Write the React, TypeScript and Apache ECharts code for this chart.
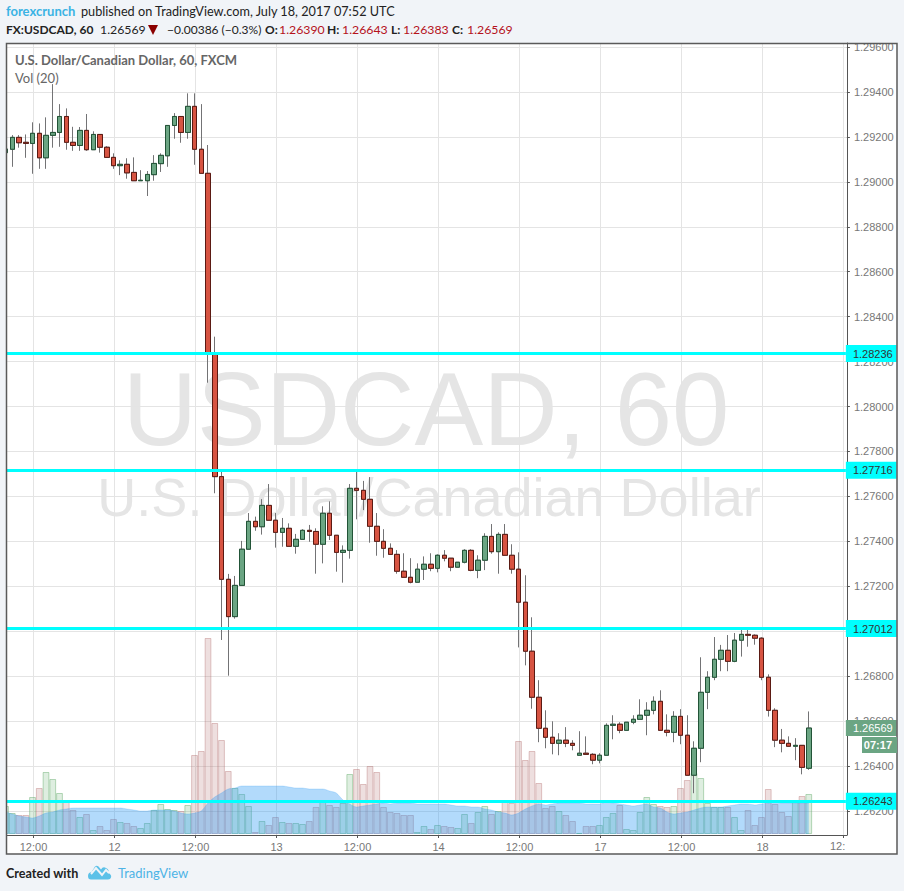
import React, { useEffect, useRef } from "react";
import * as echarts from "echarts";

const opens = [1.29130,1.29145,1.29198,1.29176,1.29171,1.29216,1.29107,1.29207,1.29220,1.29291,1.29176,1.29162,1.29229,1.29143,1.29211,1.29154,1.29109,1.29072,1.29078,1.29042,1.29005,1.29005,1.29032,1.29081,1.29116,1.29251,1.29291,1.29220,1.29336,1.29145,1.29038,1.28237,1.27688,1.27231,1.27065,1.27204,1.27365,1.27489,1.27465,1.27560,1.27494,1.27440,1.27458,1.27378,1.27409,1.27449,1.27444,1.27387,1.27525,1.27427,1.27351,1.27360,1.27636,1.27627,1.27587,1.27467,1.27400,1.27369,1.27342,1.27267,1.27240,1.27218,1.27276,1.27298,1.27280,1.27338,1.27325,1.27285,1.27307,1.27360,1.27271,1.27316,1.27422,1.27354,1.27431,1.27338,1.27276,1.27129,1.26911,1.26706,1.26568,1.26528,1.26501,1.26515,1.26501,1.26448,1.26457,1.26452,1.26426,1.26448,1.26581,1.26586,1.26559,1.26595,1.26608,1.26626,1.26648,1.26688,1.26559,1.26550,1.26621,1.26537,1.26359,1.26479,1.26728,1.26795,1.26875,1.26915,1.26866,1.26960,1.26986,1.26982,1.26969,1.26795,1.26648,1.26515,1.26501,1.26488,1.26492,1.26390];
const closes = [1.29146,1.29198,1.29174,1.29171,1.29216,1.29107,1.29207,1.29220,1.29291,1.29176,1.29162,1.29229,1.29143,1.29211,1.29154,1.29109,1.29072,1.29078,1.29040,1.29005,1.29007,1.29033,1.29082,1.29118,1.29251,1.29291,1.29220,1.29336,1.29145,1.29038,1.28240,1.27688,1.27231,1.27065,1.27204,1.27365,1.27489,1.27465,1.27560,1.27494,1.27440,1.27458,1.27378,1.27409,1.27449,1.27444,1.27387,1.27525,1.27427,1.27351,1.27360,1.27636,1.27627,1.27587,1.27467,1.27400,1.27369,1.27342,1.27267,1.27240,1.27218,1.27276,1.27298,1.27280,1.27338,1.27325,1.27285,1.27307,1.27360,1.27271,1.27316,1.27422,1.27354,1.27431,1.27338,1.27276,1.27129,1.26911,1.26706,1.26568,1.26528,1.26501,1.26515,1.26501,1.26492,1.26457,1.26452,1.26426,1.26448,1.26581,1.26586,1.26559,1.26595,1.26608,1.26626,1.26648,1.26688,1.26559,1.26550,1.26621,1.26537,1.26359,1.26479,1.26728,1.26795,1.26875,1.26915,1.26866,1.26960,1.26986,1.26982,1.26969,1.26795,1.26648,1.26515,1.26501,1.26488,1.26492,1.26394,1.26569];
const lows = [1.29110,1.29067,1.29152,1.29107,1.29036,1.29058,1.29058,1.29152,1.29156,1.29143,1.29138,1.29138,1.29138,1.29143,1.29130,1.29107,1.29058,1.29030,1.29014,1.29005,1.29005,1.28937,1.29005,1.29044,1.29067,1.29192,1.29174,1.29192,1.29076,1.29038,1.28106,1.27614,1.26961,1.26802,1.27056,1.27202,1.27365,1.27447,1.27430,1.27494,1.27372,1.27376,1.27378,1.27345,1.27409,1.27398,1.27256,1.27302,1.27406,1.27265,1.27216,1.27323,1.27498,1.27539,1.27394,1.27336,1.27327,1.27342,1.27256,1.27240,1.27213,1.27218,1.27228,1.27267,1.27262,1.27311,1.27267,1.27285,1.27302,1.27267,1.27236,1.27272,1.27345,1.27256,1.27338,1.27256,1.26928,1.26848,1.26655,1.26506,1.26479,1.26452,1.26448,1.26484,1.26470,1.26448,1.26452,1.26408,1.26412,1.26448,1.26519,1.26546,1.26559,1.26586,1.26608,1.26537,1.26630,1.26559,1.26532,1.26506,1.26497,1.26359,1.26279,1.26417,1.26653,1.26782,1.26822,1.26822,1.26862,1.26887,1.26931,1.26940,1.26782,1.26620,1.26484,1.26461,1.26485,1.26426,1.26363,1.26383];
const highs = [1.29150,1.29208,1.29208,1.29211,1.29265,1.29260,1.29287,1.29435,1.29346,1.29327,1.29245,1.29244,1.29302,1.29225,1.29211,1.29159,1.29127,1.29096,1.29105,1.29109,1.29052,1.29048,1.29119,1.29127,1.29251,1.29306,1.29291,1.29394,1.29394,1.29346,1.29164,1.28311,1.27709,1.27255,1.27246,1.27402,1.27526,1.27510,1.27588,1.27655,1.27526,1.27504,1.27480,1.27433,1.27454,1.27473,1.27458,1.27556,1.27578,1.27427,1.27382,1.27655,1.27713,1.27669,1.27686,1.27526,1.27454,1.27391,1.27361,1.27347,1.27325,1.27302,1.27333,1.27347,1.27342,1.27361,1.27325,1.27307,1.27365,1.27365,1.27338,1.27436,1.27477,1.27440,1.27477,1.27387,1.27351,1.27249,1.27062,1.26782,1.26648,1.26599,1.26546,1.26573,1.26515,1.26555,1.26532,1.26457,1.26457,1.26590,1.26626,1.26595,1.26595,1.26626,1.26697,1.26684,1.26710,1.26737,1.26630,1.26644,1.26653,1.26626,1.26510,1.26884,1.26822,1.26974,1.26939,1.26983,1.26992,1.27010,1.27010,1.26986,1.26973,1.26808,1.26657,1.26565,1.26532,1.26524,1.26492,1.26643];
const volumes = [28,21,19,19,37,46,62,55,41,32,24,17,20,4,8,4,15,12,11,8,6,11,24,30,25,24,23,29,79,83,196,111,94,63,46,40,28,2,13,9,17,12,11,11,10,13,27,32,29,27,31,60,65,50,68,62,27,22,21,19,19,2,8,5,9,8,7,6,20,11,22,28,20,23,32,31,93,74,83,51,26,28,23,19,13,1,8,8,9,17,21,29,5,4,22,37,30,28,27,28,46,54,61,56,31,27,27,27,17,4,24,9,17,45,30,22,18,32,38,40];
const volumeAverage = [22,20,18,17,16,18,21,22,24,25,26,26,26,26,26,26,26,26,25,24,23,23,24,24,24,23,21,20,21,23,31,37,41,45,46,48,48,48,48,48,48,48,47,46,46,45,45,45,43,41,34,30,27,28,29,30,31,30,31,31,31,30,30,30,30,30,29,28,28,27,27,25,24,22,21,19,21,25,28,30,29,30,31,31,31,31,30,30,30,32,31,30,29,28,29,30,27,26,22,20,21,22,24,26,27,27,27,28,29,30,30,29,30,31,32,31,31,31,31,31];
const axisLabels: Record<number, string> = { 4: "12:00", 16: "12", 28: "12:00", 40: "13", 52: "12:00", 64: "14", 76: "12:00", 88: "17", 100: "12:00", 112: "18" };
const categoryCount = 125;
const categories = Array.from({ length: categoryCount }, (_, i) => axisLabels[i] ?? String(i));
const priceTicks = [1.262,1.264,1.266,1.268,1.27,1.272,1.274,1.276,1.278,1.28,1.282,1.284,1.286,1.288,1.29,1.292,1.294,1.296];
const levels = [1.28236, 1.27716, 1.27012, 1.26243];
const lastPrice = 1.26569;

const PAGE = "#f1f4f8";
const UI = "Lato, 'Noto Sans', sans-serif";
const AX = "'Liberation Sans', Arial, sans-serif";
const RED = "#b5121b";

echarts.graphic.registerShape("tvlogo", echarts.graphic.extendPath(
  "M0 11 Q0 7.5 3.5 7 L7 1.5 Q8.5 0 10.5 1.5 L13 4.5 Q15 1 18 3 Q22 5 20 8 Q24 9.5 23 12.5 Q22.5 14.5 20 14.5 L3 14.5 Q0 14.5 0 11 Z", {}) as any);

const txt = (x: number, y: number, text: string, fill: string, font: string, align = "left") => ({
  type: "text", x, y, z: 110, silent: true,
  style: { text, fill, font, align, verticalAlign: "middle" },
});

export default function App() {
  const ref = useRef<HTMLDivElement>(null);
  useEffect(() => {
    document.body.style.margin = "0";
    const chart = echarts.init(ref.current!, undefined, { renderer: "svg" });
    const bandTest = (i: number) => axisLabels[i] !== undefined || i === 124;
    const option: any = {
      animation: false,
      backgroundColor: PAGE,
      grid: [
        { left: 3.125, top: 43, width: 843.75, height: 792, show: false },
        { left: 2.125, top: 43, width: 843.75, height: 792, show: false },
      ],
      xAxis: [
        {
          type: "category", gridIndex: 0, data: categories, boundaryGap: true,
          axisLine: { show: true, onZero: false, lineStyle: { color: "#555", width: 1 } },
          axisTick: { show: true, alignWithLabel: true, length: 3, interval: (i: number) => bandTest(i), lineStyle: { color: "#555" } },
          axisLabel: { show: true, interval: (i: number) => axisLabels[i] !== undefined, color: "#777", fontSize: 11, fontFamily: AX, margin: 6, hideOverlap: false },
          splitLine: { show: true, alignWithLabel: true, interval: (i: number) => bandTest(i), lineStyle: { color: "#e4e4e4", width: 1 } },
        },
        { type: "category", gridIndex: 1, data: categories, boundaryGap: true, show: false },
      ],
      yAxis: [
        {
          type: "value", gridIndex: 0, position: "right", min: 1.26093, max: 1.29618, scale: true,
          axisLine: { show: true, lineStyle: { color: "#555", width: 1 } },
          axisTick: { show: true, length: 3, customValues: priceTicks, lineStyle: { color: "#555" } },
          axisLabel: { show: true, customValues: priceTicks, color: "#777", fontSize: 11, fontFamily: AX, margin: 7, formatter: (v: number) => v.toFixed(5), showMinLabel: true, showMaxLabel: true },
          splitLine: { show: true, lineStyle: { color: "#e4e4e4", width: 1 } },
        },
        { type: "value", gridIndex: 1, min: 1.26093, max: 1.29618, scale: true, show: false, splitLine: { show: false } },
        { type: "value", gridIndex: 1, min: -1, max: 791, show: false, splitLine: { show: false } },
      ],
      series: [
        {
          type: "bar", xAxisIndex: 1, yAxisIndex: 2, z: 1, barWidth: "100%", silent: true,
          data: volumes.map((v, i) => ({
            value: v,
            itemStyle: closes[i] >= opens[i]
              ? { color: "rgba(90,170,100,0.2)", borderColor: "rgba(80,160,90,0.4)", borderWidth: 1 }
              : { color: "rgba(172,96,96,0.2)", borderColor: "rgba(172,96,96,0.35)", borderWidth: 1 },
          })),
        },
        {
          type: "line", xAxisIndex: 1, yAxisIndex: 2, z: 2, silent: true, symbol: "none", smooth: 0.3, data: volumeAverage,
          lineStyle: { color: "rgba(33,150,243,0.2)", width: 1 },
          areaStyle: { color: "rgba(33,150,243,0.35)", opacity: 1 },
        },
        {
          type: "candlestick", xAxisIndex: 1, yAxisIndex: 1, z: 3, silent: true, barWidth: 5, clip: true,
          data: opens.map((o, i) => [o, closes[i], lows[i], highs[i]]),
          itemStyle: { color: "#737375", color0: "#737375", borderColor: "#737375", borderColor0: "#737375", borderWidth: 1 },
        },
        {
          type: "candlestick", xAxisIndex: 1, yAxisIndex: 1, z: 4, silent: true, barWidth: 5, clip: true,
          data: opens.map((o, i) => [o, closes[i], Math.min(o, closes[i]), Math.max(o, closes[i])]),
          itemStyle: { color: "#6ba583", color0: "#d75442", borderColor: "#225437", borderColor0: "#5b1a13", borderWidth: 1 },
          markLine: {
            silent: true, symbol: "none", animation: false, z: 20, precision: 5,
            data: [
              ...levels.map((v) => ({
                yAxis: v,
                lineStyle: { color: "#00ffff", width: 3, type: "solid", opacity: 1 },
                label: { show: true, position: "end", distance: 0, formatter: v.toFixed(5), backgroundColor: "#00ffff", color: "#333", fontSize: 11, fontFamily: AX, padding: [3, 4, 3, 7] },
              })),
              {
                yAxis: lastPrice,
                lineStyle: { color: "rgba(0,0,0,0)", width: 1, type: "solid", opacity: 1 },
                label: { show: true, position: "end", distance: 0, formatter: lastPrice.toFixed(5), backgroundColor: "#6ba583", color: "#fff", fontSize: 11, fontFamily: AX, padding: [3, 4, 2, 7] },
              },
            ],
          },
        },
      ],
      graphic: {
        elements: [
          { type: "rect", z: -20, silent: true, shape: { x: 7, y: 43, width: 890, height: 811 }, style: { fill: "#fff" } },
          { type: "text", x: 426, y: 409, z: -10, silent: true, style: { text: "USDCAD, 60", fill: "#e5e5e5", font: `103px ${AX}`, align: "center", verticalAlign: "middle" } },
          { type: "text", x: 429, y: 497, z: -10, silent: true, style: { text: "U.S. Dollar/Canadian Dollar", fill: "#e5e5e5", font: `54px ${AX}`, align: "center", verticalAlign: "middle" } },
          { type: "rect", z: 100, silent: true, shape: { x: 0, y: 43, width: 6.5, height: 811 }, style: { fill: PAGE } },
          { type: "rect", z: 101, silent: true, shape: { x: 6.5, y: 43.5, width: 890.5, height: 810.5 }, style: { fill: "none", stroke: "#5a5a5a", lineWidth: 1.5 } },
          txt(6, 11, "forexcrunch", "#3bb3e4", `bold 13px ${UI}`),
          txt(81, 11, "published on TradingView.com, July 18, 2017 07:52 UTC", "#222", `12.7px ${UI}`),
          txt(6, 29, "FX:USDCAD, 60", "#222", `bold 12px ${UI}`),
          txt(100, 29, "1.26569", "#222", `12.3px ${UI}`),
          { type: "polygon", z: 110, silent: true, shape: { points: [[148, 25], [158, 25], [153, 35]] }, style: { fill: "#8b0000" } },
          txt(167, 29, "−0.00386 (−0.3%)", "#222", `12px ${UI}`),
          txt(265, 29, "O:", "#222", `bold 12px ${UI}`),
          txt(279, 29, "1.26390", RED, `12.3px ${UI}`),
          txt(327, 29, "H:", "#222", `bold 12px ${UI}`),
          txt(342, 29, "1.26643", RED, `12.3px ${UI}`),
          txt(391, 29, "L:", "#222", `bold 12px ${UI}`),
          txt(403, 29, "1.26383", RED, `12.3px ${UI}`),
          txt(452, 29, "C:", "#222", `bold 12px ${UI}`),
          txt(467, 29, "1.26569", RED, `12.3px ${UI}`),
          txt(15, 60, "U.S. Dollar/Canadian Dollar, 60, FXCM", "#666", `bold 13px ${UI}`),
          txt(15, 78, "Vol (20)", "#666", `13px ${UI}`),
          txt(830, 846, "12:", "#777", `11px ${AX}`),
          { type: "rect", z: 105, silent: true, shape: { x: 862, y: 737, width: 35, height: 16 }, style: { fill: "#6ba583" } },
          txt(892, 745, "07:17", "#fff", `bold 11px ${AX}`, "right"),
          txt(6, 873, "Created with", "#222", `bold 12.6px ${UI}`),
          { type: "tvlogo", x: 88, y: 865, z: 110, silent: true, style: { fill: "#5cc1e8" } },
          { type: "polyline", z: 111, silent: true, shape: { points: [[91, 874], [96, 868], [102, 875], [106, 870], [109, 873]] }, style: { stroke: "#f1f4f8", lineWidth: 2, fill: "none" } },
          txt(118, 873, "TradingView", "#4db3e6", `13px ${UI}`),
        ],
      },
    };
    chart.setOption(option);
    return () => chart.dispose();
  }, []);
  return <div ref={ref} style={{ position: "fixed", left: 0, top: 0, width: 904, height: 891 }} />;
}
